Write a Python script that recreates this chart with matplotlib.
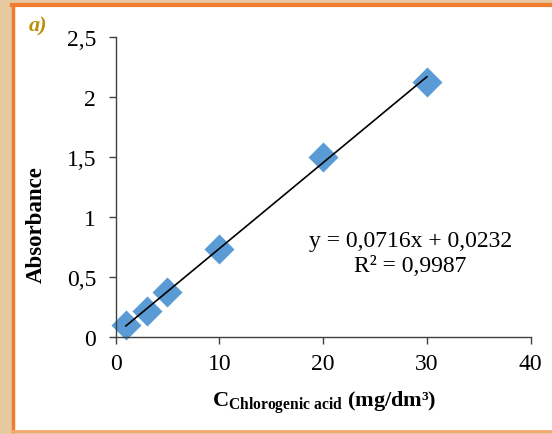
import matplotlib
matplotlib.use("Agg")
import matplotlib.pyplot as plt
from matplotlib.patches import Rectangle
import numpy as np

conc = [1, 3, 5, 10, 20, 30]
absorb = [0.10, 0.22, 0.38, 0.74, 1.50, 2.13]
slope, intercept = 0.0716, 0.0232
xticks = [0, 10, 20, 30, 40]
yticks = [0, 0.5, 1, 1.5, 2, 2.5]
ytick_labels = ["0", "0,5", "1", "1,5", "2", "2,5"]
eq_text = "y = 0,0716x + 0,0232"
r2_text = "R² = 0,9987"

plt.rcParams['font.family'] = ['Liberation Serif', 'DejaVu Serif']
plt.rcParams['mathtext.fontset'] = 'custom'
plt.rcParams['mathtext.rm'] = 'Liberation Serif'
plt.rcParams['mathtext.bf'] = 'Liberation Serif:bold'
plt.rcParams['mathtext.it'] = 'Liberation Serif:italic'

fig = plt.figure(figsize=(5.52, 4.35), dpi=100)
fig.patch.set_facecolor('#E6C9A0')
W, H = 552, 435
panel = Rectangle((12 / W, 3 / H), 1.2, (432 - 3 - 2) / H, transform=fig.transFigure,
                  facecolor='white', edgecolor='none', zorder=-5)
fig.add_artist(panel)
fig.add_artist(plt.Line2D([12 / W, 1], [1 - 6 / H, 1 - 6 / H], transform=fig.transFigure,
                          color='#F07C30', lw=3, zorder=-4))
fig.add_artist(plt.Line2D([13 / W, 13 / W], [3 / H, 1 - 6 / H], transform=fig.transFigure,
                          color='#F07C30', lw=2.5, zorder=-4))
fig.add_artist(plt.Line2D([12 / W, 1], [3 / H, 3 / H], transform=fig.transFigure,
                          color='#F5A870', lw=2, zorder=-4))

ax = fig.add_axes([115.5 / W, 1 - 338.3 / H, (530.7 - 115.5) / W, 300 / H])
ax.set_zorder(1)
ax.set_facecolor('none')

xs = np.array([conc[0], conc[-1]])
ax.plot(xs, slope * xs + intercept, color='black', lw=1.2, zorder=3)
ax.plot(conc, absorb, linestyle='none', marker='D', markersize=16,
        color='#5B9BD5', markeredgecolor='white', markeredgewidth=1.0, zorder=2, clip_on=False)

ax.set_xlim(0, 40)
ax.set_ylim(0, 2.5)
ax.set_xticks(xticks)
ax.set_yticks(yticks)
ax.set_yticklabels(ytick_labels)
for s in ['top', 'right']:
    ax.spines[s].set_visible(False)
for s in ['left', 'bottom']:
    ax.spines[s].set_color('#404040')
    ax.spines[s].set_linewidth(1.0)
ax.tick_params(direction='out', length=5, width=1, color='#404040', labelsize=17,
               labelcolor='black')
ax.tick_params(axis='y', pad=9)
ax.tick_params(axis='x', pad=6)

ax.text(28.4, 0.81, eq_text, ha='center', va='center', fontsize=17)
ax.text(28.4, 0.60, r2_text, ha='center', va='center', fontsize=17)

fig.text(324 / W, 1 - 403 / H, r'$\mathbf{C}_{\mathbf{Chlorogenic\ acid}}$ (mg/dm³)',
         ha='center', va='center', fontsize=16, fontweight='bold')
fig.text(36 / W, 1 - 225 / H, 'Absorbance', rotation=90, ha='center', va='center',
         fontsize=16.5, fontweight='bold')
fig.text(38 / W, 1 - 26 / H, 'a)', ha='center', va='center', fontsize=16,
         fontweight='bold', fontstyle='italic', color='#B8900A')

fig.savefig('out.png', dpi=100, facecolor=fig.get_facecolor())
